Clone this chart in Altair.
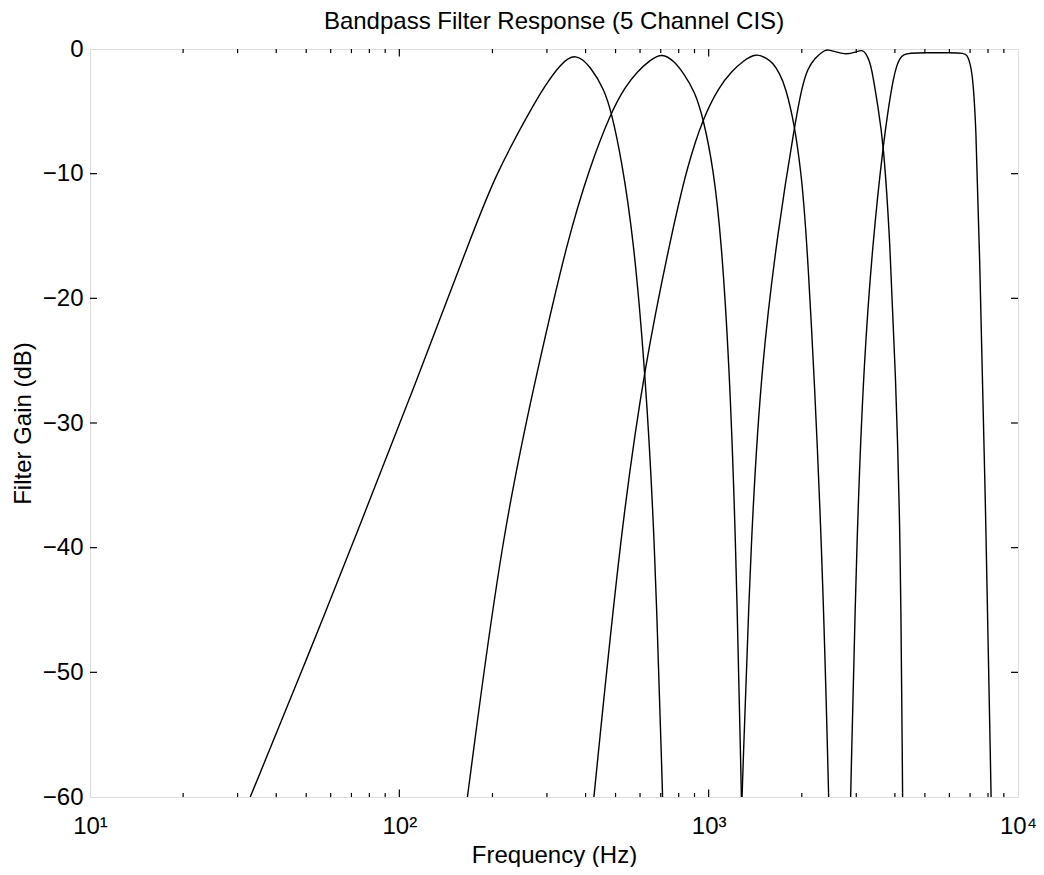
import altair as alt
import pandas as pd

# ---- data (Hz, dB) ----
ch1_f = [32.96, 50.1, 73.5, 112.2, 173.4, 204.6, 261.2, 294.4, 332.7, 371.5,
         415.9, 460.3, 484.2, 521.2, 572.8, 623.7, 668.3, 709.6]
ch1_db = [-60, -49, -38.6, -27, -14.6, -10.1, -5.2, -3.0, -1.15, -0.3,
          -1.42, -3.29, -5.03, -8.64, -15.3, -26, -38.6, -60]

ch2_f = [166.0, 215.3, 285.1, 349.9, 412.1, 484.2, 538.3, 587.5, 645.7, 706.3,
         776.2, 829.8, 901.6, 959.4, 1035, 1099, 1164, 1222, 1276]
ch2_db = [-60, -38.6, -24.8, -15.3, -9.5, -5.03, -3.0, -1.82, -0.9, -0.3,
          -1.0, -1.95, -3.4, -5.5, -9.5, -15.3, -25, -38.6, -60]

ch3_f = [425.6, 520.0, 622.3, 763.8, 851.1, 959.4, 1084, 1183, 1300, 1422,
         1531, 1614, 1698, 1770, 1897, 1986, 2075, 2323, 2443]
ch3_db = [-60, -38.6, -25.2, -14.5, -9.5, -5.5, -3.0, -1.82, -0.9, -0.35,
          -0.7, -1.1, -2.0, -3.0, -6.1, -9.8, -14.5, -38.6, -60]

ch4_f = [1282, 1371, 1486, 1675, 1897, 2004, 2089, 2198, 2366, 2427, 2600, 2786,
         2985, 3141, 3221, 3304, 3388, 3524, 3673, 3855, 4018, 4169, 4236]
ch4_db = [-60, -38.6, -25, -14.5, -6.1, -3.0, -1.6, -0.75, -0.1, -0.05, -0.25, -0.45,
          -0.25, -0.05, -0.35, -0.88, -1.95, -4.6, -7.5, -15.3, -26, -38.6, -60]

ch5_f = [2877, 3013, 3177, 3396, 3673, 3846, 3954, 4055, 4150, 4266, 4457,
         5012, 6026, 6699, 6839, 6950, 7129, 7311, 7482, 7889, 8185]
ch5_db = [-60, -38.6, -25, -15.3, -7.5, -4.1, -2.4, -1.3, -0.75, -0.45, -0.33,
          -0.3, -0.3, -0.33, -0.5, -0.88, -1.95, -6.0, -14.5, -38.6, -60]

x_major = [10, 100, 1000, 10000]
x_minor = [20, 30, 40, 50, 60, 70, 80, 90,
           200, 300, 400, 500, 600, 700, 800, 900,
           2000, 3000, 4000, 5000, 6000, 7000, 8000, 9000]
y_ticks = [-60, -50, -40, -30, -20, -10, 0]
y_inner = [-50, -40, -30, -20, -10]

title = "Bandpass Filter Response (5 Channel CIS)"
x_title = "Frequency (Hz)"
y_title = "Filter Gain (dB)"

# ---- tables ----
rows = []
for name, fs, ds in [("1", ch1_f, ch1_db), ("2", ch2_f, ch2_db), ("3", ch3_f, ch3_db),
                     ("4", ch4_f, ch4_db), ("5", ch5_f, ch5_db)]:
    for f, d in zip(fs, ds):
        rows.append({"ch": name, "f": f, "db": d})
curves = pd.DataFrame(rows)

MINOR_DB = 0.33
MAJOR_DB = 0.6
XFAC = 10 ** (7 / 310.0)
tk = []
for v in x_minor:
    tk.append({"x": v, "x2": v, "y": -60, "y2": -60 + MINOR_DB})
    tk.append({"x": v, "x2": v, "y": 0, "y2": -MINOR_DB})
for v in x_major[1:-1]:
    tk.append({"x": v, "x2": v, "y": -60, "y2": -60 + MAJOR_DB})
    tk.append({"x": v, "x2": v, "y": 0, "y2": -MAJOR_DB})
for v in y_inner:
    tk.append({"x": 10, "x2": 10 * XFAC, "y": v, "y2": v})
    tk.append({"x": 10000, "x2": 10000 / XFAC, "y": v, "y2": v})
ticks = pd.DataFrame(tk)

FONT = "Liberation Sans"
FS_LAB = 24
FS_TIT = 24
xs = alt.Scale(type="log", domain=[10, 10000], nice=False)
ys = alt.Scale(domain=[-60, 0], nice=False, zero=False)

x_axis = alt.Axis(values=x_major, title=x_title, grid=False, ticks=False, domain=False,
                  labelExpr="datum.value == 10 ? '10\u00b9' : datum.value == 100 ? '10\u00b2' : datum.value == 1000 ? '10\u00b3' : '10\u2074'",
                  labelFont=FONT, labelFontSize=FS_LAB, labelColor="black", labelPadding=17,
                  labelFlush=False, labelOverlap=False,
                  titleFont=FONT, titleFontSize=FS_TIT, titleFontWeight="normal", titleColor="black",
                  titlePadding=5)
y_axis = alt.Axis(values=y_ticks, title=y_title, grid=False, ticks=False, domain=False,
                  labelFont=FONT, labelFontSize=FS_LAB, labelColor="black", labelPadding=7,
                  labelFlush=False, labelOverlap=False,
                  titleFont=FONT, titleFontSize=FS_TIT, titleFontWeight="normal", titleColor="black",
                  titlePadding=7)

lines = alt.Chart(curves).mark_line(color="black", strokeWidth=1.4, interpolate="basis", clip=True).encode(
    x=alt.X("f:Q", scale=xs, axis=x_axis),
    y=alt.Y("db:Q", scale=ys, axis=y_axis),
    detail="ch:N",
)

tick_layer = alt.Chart(ticks).mark_rule(color="black", strokeWidth=1.2).encode(
    x=alt.X("x:Q", scale=xs),
    x2="x2:Q",
    y=alt.Y("y:Q", scale=ys),
    y2="y2:Q",
)

chart = alt.layer(lines, tick_layer).properties(
    width=928, height=748,
    title=alt.TitleParams(title, font=FONT, fontSize=FS_TIT, fontWeight="normal", color="black",
                          anchor="middle", offset=3),
    autosize=alt.AutoSizeParams(type="none"),
    padding={"left": 82, "top": 41, "right": 18, "bottom": 70},
).configure_view(stroke="black", strokeWidth=1.2).configure(background="white")

chart.save("out.html", embed_options={"renderer": "svg", "actions": False})
